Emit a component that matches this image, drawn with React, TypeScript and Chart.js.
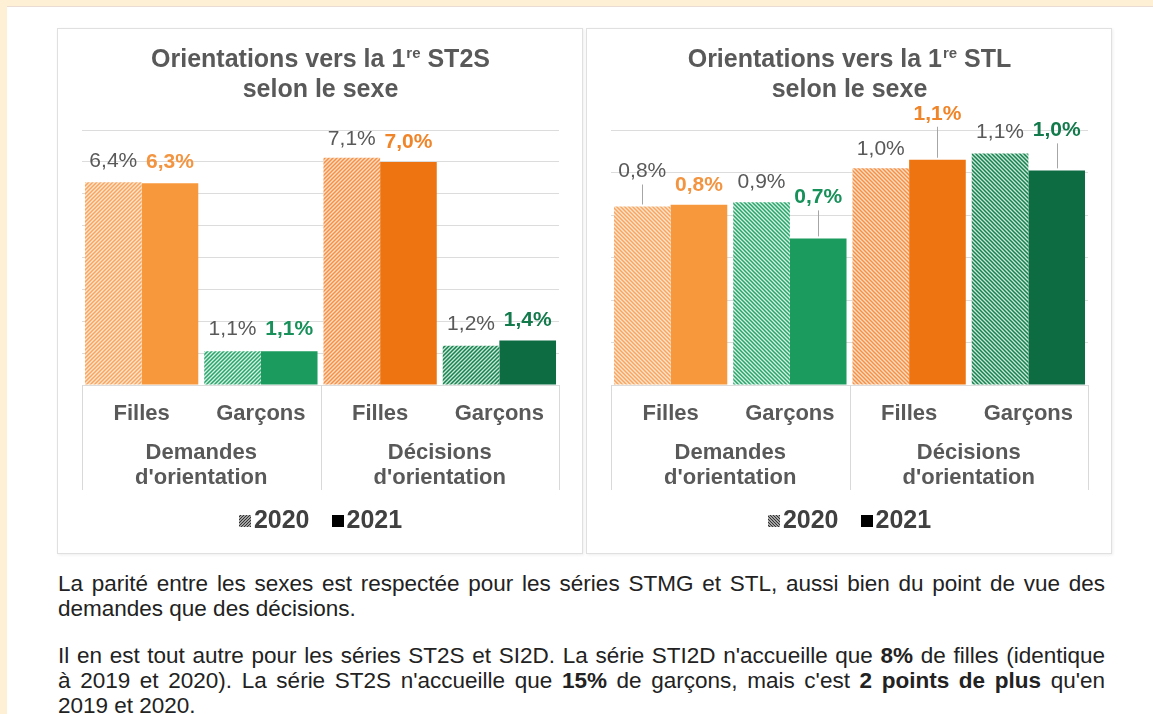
import React, { useEffect, useRef } from 'react';
import { Chart, registerables } from 'chart.js';

Chart.register(...registerables);

// ---------- data ----------
const categories = ['Filles', 'Garçons', 'Filles', 'Garçons'];
const groupLabels = [['Demandes', "d'orientation"], ['Décisions', "d'orientation"]];
const seriesNames = ['2020', '2021'];

const st2s2020 = [6.36, 1.06, 7.13, 1.23];
const st2s2021 = [6.33, 1.06, 7.0, 1.4];
const stl2020 = [0.84, 0.86, 1.02, 1.09];
const stl2021 = [0.848, 0.69, 1.06, 1.01];

const st2sTitle = ['Orientations vers la 1', 're', ' ST2S', 'selon le sexe'];
const stlTitle = ['Orientations vers la 1', 're', ' STL', 'selon le sexe'];

const st2sAxis = { max: 8, step: 1 };
const stlAxis = { max: 1.2, step: 0.2 };

// ---------- styles ----------
const FONT = '"Liberation Sans", Arial, Helvetica, sans-serif';
const TEXT_GRAY = '#595959';
const solid2021 = ['#f8983d', '#1b9b5d', '#ee7412', '#0d6c42'];
const label2021Colors = ['#f39440', '#17905a', '#f08428', '#137a4c'];
const hatch2020 = [
  ['#fde4cc', '#f7a560'],
  ['#d5f0e2', '#27a56b'],
  ['#fcddc2', '#f39149'],
  ['#c9e6d6', '#15824f'],
];

function makeHatch(ctx: CanvasRenderingContext2D, bg: string, fg: string, dir: number, size = 4, lw = 1.5) {
  const c = document.createElement('canvas');
  c.width = size;
  c.height = size;
  const g = c.getContext('2d')!;
  g.fillStyle = bg;
  g.fillRect(0, 0, size, size);
  g.strokeStyle = fg;
  g.lineWidth = lw;
  g.beginPath();
  if (dir === 1) {
    g.moveTo(0, size); g.lineTo(size, 0);
    g.moveTo(-size, size); g.lineTo(size, -size);
    g.moveTo(0, 2 * size); g.lineTo(2 * size, 0);
  } else {
    g.moveTo(0, 0); g.lineTo(size, size);
    g.moveTo(-size, 0); g.lineTo(size, 2 * size);
    g.moveTo(0, -size); g.lineTo(2 * size, size);
  }
  g.stroke();
  return ctx.createPattern(c, 'repeat') as CanvasPattern;
}

const fmt = (v: number) => v.toFixed(1).replace('.', ',') + '%';

interface Spec {
  title: string[];
  v2020: number[];
  v2021: number[];
  axis: { max: number; step: number };
  dir: number;
  lift2020: number[];
  lift2021: number[];
}

function buildConfig(ctx: CanvasRenderingContext2D, spec: Spec): any {
  const bg2020 = hatch2020.map(([b, f]) => makeHatch(ctx, b, f, spec.dir));
  const legendHatch = makeHatch(ctx, '#ffffff', '#333333', spec.dir, 3, 1.3);

  const titlePlugin = {
    id: 'customTitle',
    afterDraw(chart: any) {
      const c = chart.ctx;
      const cx = (chart.chartArea.left + chart.chartArea.right) / 2;
      c.save();
      c.fillStyle = TEXT_GRAY;
      c.textBaseline = 'alphabetic';
      c.textAlign = 'left';
      const big = `bold 25px ${FONT}`;
      const small = `bold 15px ${FONT}`;
      c.font = big;
      const w1 = c.measureText(spec.title[0]).width;
      const w3 = c.measureText(spec.title[2]).width;
      c.font = small;
      const w2 = c.measureText(spec.title[1]).width + 1;
      const total = w1 + w2 + w3;
      let x = cx - total / 2;
      const base1 = 38;
      c.font = big;
      c.fillText(spec.title[0], x, base1);
      x += w1 + 1;
      c.font = small;
      c.fillText(spec.title[1], x, base1 - 9);
      x += w2 - 1;
      c.font = big;
      c.fillText(spec.title[2], x, base1);
      c.textAlign = 'center';
      c.fillText(spec.title[3], cx, 68);
      c.restore();
    },
  };

  const separators = {
    id: 'separators',
    afterDraw(chart: any) {
      const c = chart.ctx;
      const xs = chart.scales.x;
      const top = chart.chartArea.bottom;
      const bottom = top + 105;
      const pts = [xs.left, (xs.left + xs.right) / 2, xs.right];
      c.save();
      c.strokeStyle = '#d9d9d9';
      c.lineWidth = 1;
      pts.forEach((px) => {
        const p = Math.round(px) + 0.5;
        c.beginPath();
        c.moveTo(p, top);
        c.lineTo(p, bottom);
        c.stroke();
      });
      c.restore();
    },
  };

  const valueLabels = {
    id: 'valueLabels',
    afterDatasetsDraw(chart: any) {
      const c = chart.ctx;
      c.save();
      c.textAlign = 'center';
      c.textBaseline = 'middle';
      chart.data.datasets.forEach((ds: any, di: number) => {
        const meta = chart.getDatasetMeta(di);
        const lifts = di === 0 ? spec.lift2020 : spec.lift2021;
        meta.data.forEach((el: any, i: number) => {
          const v = ds.data[i];
          const lift = lifts[i];
          const ty = el.y - lift;
          if (lift > 30) {
            c.strokeStyle = '#a6a6a6';
            c.lineWidth = 1;
            c.beginPath();
            const lx = Math.round(el.x) + 0.5;
            c.moveTo(lx, ty + 13);
            c.lineTo(lx, el.y - 2);
            c.stroke();
          }
          if (di === 0) {
            c.font = `21px ${FONT}`;
            c.fillStyle = TEXT_GRAY;
          } else {
            c.font = `bold 21px ${FONT}`;
            c.fillStyle = label2021Colors[i];
          }
          c.fillText(fmt(v), el.x, ty);
        });
      });
      c.restore();
    },
  };

  const legendPlugin = {
    id: 'customLegend',
    afterDraw(chart: any) {
      const c = chart.ctx;
      const names = chart.data.datasets.map((d: any) => d.label);
      c.save();
      c.font = `bold 25px ${FONT}`;
      c.textBaseline = 'middle';
      c.textAlign = 'left';
      const box = 12;
      const gapBT = 3;
      const gapItems = 22;
      const widths = names.map((n: string) => c.measureText(n).width);
      const total = box + gapBT + widths[0] + gapItems + box + gapBT + widths[1];
      const cx = (chart.chartArea.left + chart.chartArea.right) / 2;
      let x = cx - total / 2;
      const y = 492;
      const fills = [legendHatch, '#000000'];
      names.forEach((n: string, i: number) => {
        c.fillStyle = fills[i] as any;
        c.fillRect(Math.round(x), Math.round(y - box / 2), box, box);
        x += box + gapBT;
        c.fillStyle = '#404040';
        c.fillText(n, x, y);
        x += widths[i] + gapItems;
      });
      c.restore();
    },
  };

  return {
    type: 'bar',
    data: {
      labels: categories,
      datasets: [
        {
          label: seriesNames[0],
          data: spec.v2020,
          backgroundColor: bg2020,
          borderWidth: 0,
          categoryPercentage: 0.95,
          barPercentage: 1,
          xAxisID: 'x',
        },
        {
          label: seriesNames[1],
          data: spec.v2021,
          backgroundColor: solid2021,
          borderWidth: 0,
          categoryPercentage: 0.95,
          barPercentage: 1,
          xAxisID: 'x',
        },
      ],
    },
    options: {
      responsive: false,
      animation: false,
      events: [],
      layout: { padding: { top: 101, left: 24, right: 23, bottom: 53 } },
      plugins: {
        legend: { display: false },
        title: { display: false },
        tooltip: { enabled: false },
      },
      scales: {
        x: {
          type: 'category',
          position: 'bottom',
          weight: 0,
          grid: { display: false },
          border: { display: false },
          ticks: {
            font: { family: FONT, size: 22, weight: 'bold' },
            color: TEXT_GRAY,
            padding: 8,
            maxRotation: 0,
            autoSkip: false,
          },
          afterFit: (s: any) => {
            s.height = 45;
          },
        },
        x2: {
          type: 'category',
          labels: groupLabels,
          position: 'bottom',
          weight: 1,
          offset: true,
          grid: { display: false },
          border: { display: false },
          ticks: {
            font: { family: FONT, size: 22, weight: 'bold', lineHeight: 1.14 },
            color: TEXT_GRAY,
            padding: 2,
            maxRotation: 0,
            autoSkip: false,
          },
          afterFit: (s: any) => {
            s.height = 70;
          },
        },
        y: {
          min: 0,
          max: spec.axis.max,
          ticks: { display: false, stepSize: spec.axis.step },
          grid: { color: '#dcdcdc', drawTicks: false, lineWidth: 1 },
          border: { display: false },
          afterFit: (s: any) => {
            s.width = 0;
          },
        },
      },
    },
    plugins: [titlePlugin, separators, valueLabels, legendPlugin],
  };
}

const st2sSpec: Spec = {
  title: st2sTitle,
  v2020: st2s2020,
  v2021: st2s2021,
  axis: st2sAxis,
  dir: 1,
  lift2020: [21, 22, 19, 22],
  lift2021: [21, 22, 20, 20],
};

const stlSpec: Spec = {
  title: stlTitle,
  v2020: stl2020,
  v2021: stl2021,
  axis: stlAxis,
  dir: -1,
  lift2020: [35, 20, 19, 21],
  lift2021: [20, 41, 46, 40],
};

const panelStyle = (left: number): React.CSSProperties => ({
  position: 'absolute',
  left,
  top: 28,
  width: 526,
  height: 526,
  boxSizing: 'border-box',
  border: '1px solid #e0e0e0',
  boxShadow: '1px 1px 3px rgba(0,0,0,0.07)',
  background: '#ffffff',
});

const justLine: React.CSSProperties = { textAlign: 'justify', textAlignLast: 'justify' as any };
const lastLine: React.CSSProperties = { textAlign: 'left' };

export default function App() {
  const ref1 = useRef<HTMLCanvasElement>(null);
  const ref2 = useRef<HTMLCanvasElement>(null);

  useEffect(() => {
    const a = ref1.current!;
    const b = ref2.current!;
    const c1 = new Chart(a, buildConfig(a.getContext('2d')!, st2sSpec));
    const c2 = new Chart(b, buildConfig(b.getContext('2d')!, stlSpec));
    return () => {
      c1.destroy();
      c2.destroy();
    };
  }, []);

  return (
    <div
      style={{
        position: 'fixed',
        left: 0,
        top: 0,
        width: 1153,
        height: 714,
        background: '#fdf0d4',
        overflow: 'hidden',
        fontFamily: FONT,
      }}
    >
      <div
        style={{
          position: 'absolute',
          left: 7,
          top: 6,
          width: 1146,
          height: 708,
          background: '#ffffff',
          borderTop: '1px solid #eadcd3',
        }}
      />
      <div style={panelStyle(57)}>
        <canvas ref={ref1} width={524} height={524} style={{ display: 'block' }} />
      </div>
      <div style={panelStyle(586)}>
        <canvas ref={ref2} width={524} height={524} style={{ display: 'block' }} />
      </div>
      <div
        style={{
          position: 'absolute',
          left: 58,
          top: 571,
          width: 1047,
          fontSize: 22.5,
          lineHeight: '25px',
          color: '#222222',
          whiteSpace: 'nowrap',
        }}
      >
        <div style={justLine}>
          La parité entre les sexes est respectée pour les séries STMG et STL, aussi bien du point de vue des
        </div>
        <div style={lastLine}>demandes que des décisions.</div>
        <div style={{ ...justLine, marginTop: 22 }}>
          Il en est tout autre pour les séries ST2S et SI2D. La série STI2D n'accueille que <b>8%</b> de filles (identique
        </div>
        <div style={justLine}>
          à 2019 et 2020). La série ST2S n'accueille que <b>15%</b> de garçons, mais c'est <b>2 points de plus</b> qu'en
        </div>
        <div style={lastLine}>2019 et 2020.</div>
      </div>
    </div>
  );
}
